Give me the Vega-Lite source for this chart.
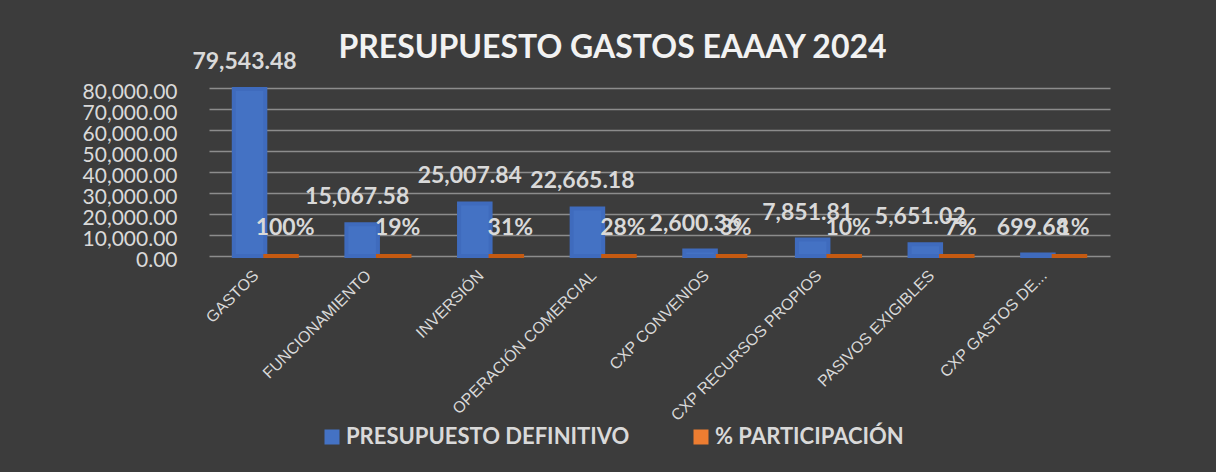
{
  "$schema": "https://vega.github.io/schema/vega-lite/v6.json",
  "autosize": {"type": "none"},
  "width": 901,
  "height": 168,
  "padding": {"left": 209, "top": 88, "right": 106, "bottom": 216},
  "background": "#3c3c3c",
  "title": {
    "text": "PRESUPUESTO GASTOS EAAAY 2024",
    "font": "Lato",
    "fontSize": 32,
    "fontWeight": "bold",
    "color": "#f2f2f2",
    "anchor": "middle",
    "frame": "group",
    "dx": -47,
    "dy": 39,
    "offset": 25
  },
  "data": {
    "values": [
      {"cat": "GASTOS", "serie": "PRESUPUESTO DEFINITIVO", "valor": 79543.48},
      {"cat": "GASTOS", "serie": "% PARTICIPACIÓN", "valor": 1.0},
      {"cat": "FUNCIONAMIENTO", "serie": "PRESUPUESTO DEFINITIVO", "valor": 15067.58},
      {"cat": "FUNCIONAMIENTO", "serie": "% PARTICIPACIÓN", "valor": 0.19},
      {"cat": "INVERSIÓN", "serie": "PRESUPUESTO DEFINITIVO", "valor": 25007.84},
      {"cat": "INVERSIÓN", "serie": "% PARTICIPACIÓN", "valor": 0.31},
      {"cat": "OPERACIÓN COMERCIAL", "serie": "PRESUPUESTO DEFINITIVO", "valor": 22665.18},
      {"cat": "OPERACIÓN COMERCIAL", "serie": "% PARTICIPACIÓN", "valor": 0.28},
      {"cat": "CXP CONVENIOS", "serie": "PRESUPUESTO DEFINITIVO", "valor": 2600.36},
      {"cat": "CXP CONVENIOS", "serie": "% PARTICIPACIÓN", "valor": 0.03},
      {"cat": "CXP RECURSOS PROPIOS", "serie": "PRESUPUESTO DEFINITIVO", "valor": 7851.81},
      {"cat": "CXP RECURSOS PROPIOS", "serie": "% PARTICIPACIÓN", "valor": 0.10},
      {"cat": "PASIVOS EXIGIBLES", "serie": "PRESUPUESTO DEFINITIVO", "valor": 5651.02},
      {"cat": "PASIVOS EXIGIBLES", "serie": "% PARTICIPACIÓN", "valor": 0.07},
      {"cat": "CXP GASTOS DE...", "serie": "PRESUPUESTO DEFINITIVO", "valor": 699.68},
      {"cat": "CXP GASTOS DE...", "serie": "% PARTICIPACIÓN", "valor": 0.01}
    ]
  },
  "encoding": {
    "x": {
      "field": "cat",
      "type": "nominal",
      "sort": null,
      "scale": {"paddingInner": 0.44, "paddingOuter": 0.22},
      "axis": {
        "title": null,
        "labelAngle": -45,
        "labelFont": "Liberation Sans",
        "labelFontSize": 16,
        "labelColor": "#d9d9d9",
        "labelOffset": -15,
        "labelPadding": 11,
        "labelLimit": 0,
        "domain": false,
        "ticks": false,
        "grid": false
      }
    },
    "xOffset": {
      "field": "serie",
      "type": "nominal",
      "scale": {"domain": ["PRESUPUESTO DEFINITIVO", "% PARTICIPACIÓN"], "paddingInner": 0}
    },
    "y": {
      "field": "valor",
      "type": "quantitative",
      "scale": {"domain": [0, 80000], "nice": false},
      "axis": {
        "title": null,
        "values": [0, 10000, 20000, 30000, 40000, 50000, 60000, 70000, 80000],
        "format": ",.2f",
        "labelFont": "Lato",
        "labelFontSize": 21,
        "labelColor": "#d9d9d9",
        "labelPadding": 32,
        "labelOffset": 4,
        "domain": false,
        "ticks": false,
        "grid": true,
        "gridColor": "#8c8c8c",
        "gridWidth": 1.5
      }
    }
  },
  "layer": [
    {
      "mark": {"type": "bar", "strokeWidth": 4},
      "encoding": {
        "color": {
          "field": "serie",
          "type": "nominal",
          "scale": {"domain": ["PRESUPUESTO DEFINITIVO", "% PARTICIPACIÓN"], "range": ["#4472C4", "#ED7D31"]},
          "legend": {
            "title": null,
            "orient": "none",
            "direction": "horizontal",
            "legendX": 112,
            "legendY": 338,
            "symbolType": "square",
            "symbolSize": 225,
            "symbolStrokeWidth": 0,
            "labelOffset": 3,
            "labelFont": "Lato",
            "labelFontSize": 22,
            "labelFontWeight": "bold",
            "labelColor": "#d9d9d9",
            "labelLimit": 0,
            "columnPadding": 60
          }
        },
        "stroke": {
          "field": "serie",
          "type": "nominal",
          "scale": {"domain": ["PRESUPUESTO DEFINITIVO", "% PARTICIPACIÓN"], "range": ["#3f6bbd", "#C55A11"]},
          "legend": null
        }
      }
    },
    {
      "transform": [{"filter": "datum.serie === 'PRESUPUESTO DEFINITIVO'"}],
      "mark": {"type": "text", "font": "Lato", "fontSize": 23, "fontWeight": "bold", "color": "#d9d9d9", "baseline": "alphabetic", "dy": -20, "dx": -5},
      "encoding": {
        "text": {"field": "valor", "type": "quantitative", "format": ",.2f"}
      }
    },
    {
      "transform": [{"filter": "datum.serie === '% PARTICIPACIÓN'"}],
      "mark": {"type": "text", "font": "Lato", "fontSize": 23, "fontWeight": "bold", "color": "#d9d9d9", "baseline": "middle", "dy": -28, "dx": 4},
      "encoding": {
        "text": {"field": "valor", "type": "quantitative", "format": ".0%"}
      }
    }
  ],
  "config": {
    "view": {"stroke": null}
  }
}
